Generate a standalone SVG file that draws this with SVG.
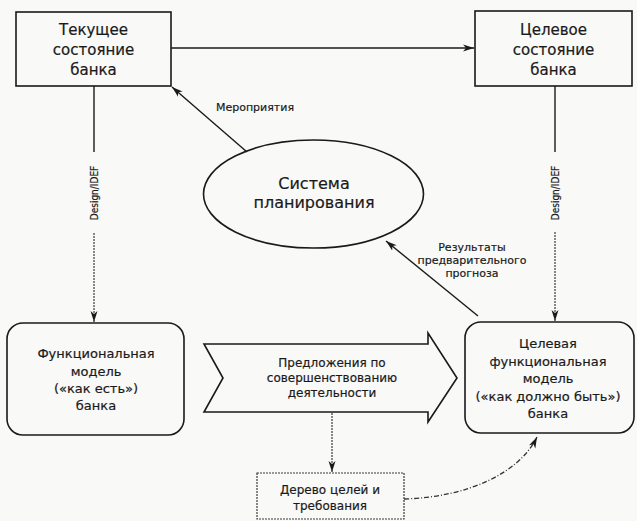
<svg xmlns="http://www.w3.org/2000/svg" width="637" height="521" viewBox="0 0 637 521">
<defs>
<style>
.box{fill:none;stroke:#1a1a1a;stroke-width:1.6}
.ln{fill:none;stroke:#1a1a1a;stroke-width:1.4}
.dot{fill:none;stroke:#3a3a3a;stroke-width:1.2;stroke-dasharray:2 1}
.dash{fill:none;stroke:#333;stroke-width:1.3;stroke-dasharray:5 2 1 2}
text{font-family:"DejaVu Sans","Liberation Sans",sans-serif;fill:#1a1a1a;text-anchor:middle;stroke:#1a1a1a;stroke-width:0.2}
.t15{font-size:15px}
.t16{font-size:16px}
.t13{font-size:13px}
.t12{font-size:12px}
.t11{font-size:11px}
.t10{font-size:10px;font-family:"DejaVu Sans Condensed","DejaVu Sans",sans-serif}
</style>
<marker id="ah" markerUnits="userSpaceOnUse" markerWidth="12" markerHeight="8" refX="11" refY="4" orient="auto">
<path d="M0,0.5 L11,4 L0,7.5 L3,4 z" fill="#1a1a1a"/>
</marker>
</defs>
<rect width="637" height="521" fill="#f9f9f8"/>

<g id="connectors">
<line class="ln" x1="171" y1="48" x2="474" y2="48" marker-end="url(#ah)"/>
<line class="ln" x1="94" y1="86" x2="94" y2="152"/>
<line class="dot" x1="94" y1="233" x2="94" y2="322" marker-end="url(#ah)"/>
<text class="t10" transform="translate(97.5,193) rotate(-90)">Design/IDEF</text>
<line class="ln" x1="555" y1="86" x2="555" y2="152"/>
<line class="dot" x1="555" y1="232" x2="555" y2="321" marker-end="url(#ah)"/>
<text class="t10" transform="translate(558.5,193) rotate(-90)">Design/IDEF</text>
<line class="ln" x1="247" y1="152" x2="172" y2="87" marker-end="url(#ah)"/>
<text class="t11" x="255" y="111">Мероприятия</text>
<line class="ln" x1="478" y1="316" x2="386" y2="241" marker-end="url(#ah)"/>
<text class="t11" x="472" y="251">Результаты</text>
<text class="t11" x="472" y="264">предварительного</text>
<text class="t11" x="472" y="277">прогноза</text>
<line class="dot" x1="332" y1="413" x2="332" y2="472" marker-end="url(#ah)"/>
<path class="dash" d="M404,499 C470,497 520,472 537,437" marker-end="url(#ah)"/>
</g>

<g id="n1">
<rect class="box" x="16" y="12" width="155" height="74"/>
<text class="t15" x="93.5" y="35">Текущее</text>
<text class="t15" x="93.5" y="55">состояние</text>
<text class="t15" x="93.5" y="75">банка</text>
</g>

<g id="n2">
<rect class="box" x="475" y="11" width="157" height="75"/>
<text class="t15" x="553.5" y="35">Целевое</text>
<text class="t15" x="553.5" y="55">состояние</text>
<text class="t15" x="553.5" y="75">банка</text>
</g>

<g id="n3">
<ellipse class="box" cx="313.5" cy="194" rx="110" ry="54"/>
<text class="t16" x="314" y="189">Система</text>
<text class="t16" x="314" y="208">планирования</text>
</g>

<g id="n4">
<rect class="box" x="7" y="323" width="177" height="112" rx="16" ry="16"/>
<text class="t13" x="96" y="358">Функциональная</text>
<text class="t13" x="96" y="376">модель</text>
<text class="t13" x="96" y="393">(«как есть»)</text>
<text class="t13" x="96" y="410">банка</text>
</g>

<g id="n5">
<path class="box" d="M204,344 L428,344 L428,333 L457,378 L428,422 L428,412 L204,412 L223,378 z"/>
<text class="t12" x="332" y="367">Предложения по</text>
<text class="t12" x="332" y="382">совершенствованию</text>
<text class="t12" x="332" y="397">деятельности</text>
</g>

<g id="n6">
<rect class="box" x="465" y="322" width="169" height="111" rx="16" ry="16"/>
<text class="t13" x="548" y="348">Целевая</text>
<text class="t13" x="548" y="366">функциональная</text>
<text class="t13" x="548" y="383">модель</text>
<text class="t13" x="548" y="401">(«как должно быть»)</text>
<text class="t13" x="548" y="418">банка</text>
</g>

<g id="n7">
<rect class="dot" x="257" y="473" width="147" height="46"/>
<text class="t12" x="330" y="494">Дерево целей и</text>
<text class="t12" x="330" y="510">требования</text>
</g>
</svg>
